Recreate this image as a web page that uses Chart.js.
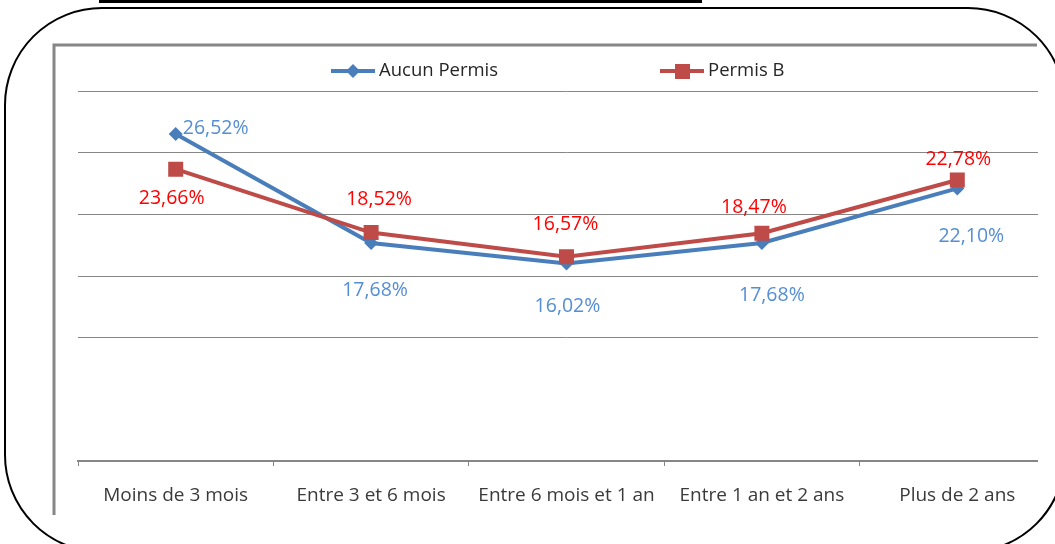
<!DOCTYPE html>
<html>
<head>
<meta charset="utf-8">
<script src="https://cdn.jsdelivr.net/npm/chart.js@4"></script>
<style>
  html, body { margin: 0; padding: 0; background: #fff; overflow: hidden; }
  #wrap { width: 1055px; height: 544px; position: relative; }
</style>
</head>
<body>
<div id="wrap"><canvas id="duree-chart"></canvas></div>
<script>
// chart data
const categories = ['Moins de 3 mois', 'Entre 3 et 6 mois', 'Entre 6 mois et 1 an', 'Entre 1 an et 2 ans', 'Plus de 2 ans'];
const aucunPermis = [26.52, 17.68, 16.02, 17.68, 22.10];
const permisB = [23.66, 18.52, 16.57, 18.47, 22.78];
const seriesNames = ['Aucun Permis', 'Permis B'];
const yTicks = [0, 5, 10, 15, 20, 25, 30];

// label offsets from each point (pixels), like excel places them
const labelOffsetsBlue = [[40, -5], [4, 47], [1, 43], [10, 52], [14, 48]];
const labelOffsetsRed = [[-4, 29], [8, -33], [-1, -32], [-8, -26], [1, -21]];

const blue = '#4a7ebb', red = '#be4b48';
const blueText = '#558ed5', redText = '#ff0000';
const grey = '#868686';
const fontFam = '"Open Sans", "Noto Sans", sans-serif';

function fmt(v) { return v.toFixed(2).replace('.', ',') + '%'; }

const decor = {
  id: 'decor',
  beforeDraw(chart) {
    const c = chart.ctx;
    c.save();
    c.fillStyle = '#fff';
    c.fillRect(0, 0, chart.width, chart.height);
    c.restore();
  },
  beforeDatasetsDraw(chart) {
    // plot lines stop short of the right edge in the original
    const c = chart.ctx;
    c.save();
    c.fillStyle = '#fff';
    c.fillRect(1038, 80, 20, 400);
    c.restore();
  },
  afterDatasetsDraw(chart) {
    const c = chart.ctx;
    c.save();
    c.font = '19.5px ' + fontFam;
    c.textAlign = 'center';
    c.textBaseline = 'middle';
    const sets = [[0, labelOffsetsBlue, blueText], [1, labelOffsetsRed, redText]];
    sets.forEach(([di, offs, col]) => {
      const meta = chart.getDatasetMeta(di);
      const vals = chart.data.datasets[di].data;
      meta.data.forEach((pt, j) => {
        c.fillStyle = col;
        c.fillText(fmt(vals[j]), pt.x + offs[j][0], pt.y + offs[j][1]);
      });
    });
    c.restore();
  },
  afterDraw(chart) {
    const c = chart.ctx;
    c.save();
    // legend
    c.lineWidth = 4;
    c.strokeStyle = blue;
    c.beginPath(); c.moveTo(331, 71); c.lineTo(375, 71); c.stroke();
    c.fillStyle = blue;
    c.beginPath(); c.moveTo(353, 64); c.lineTo(360, 71); c.lineTo(353, 78); c.lineTo(346, 71); c.closePath(); c.fill();
    c.strokeStyle = red;
    c.beginPath(); c.moveTo(660, 71); c.lineTo(704, 71); c.stroke();
    c.fillStyle = red;
    c.fillRect(675, 64, 15, 15);
    c.font = '18.5px ' + fontFam;
    c.fillStyle = '#262626';
    c.textBaseline = 'middle';
    c.textAlign = 'left';
    c.fillText(seriesNames[0], 379, 71);
    c.fillText(seriesNames[1], 708, 71);

    // grey chart frame
    c.strokeStyle = grey;
    c.lineWidth = 3;
    c.beginPath(); c.moveTo(54, 515); c.lineTo(54, 45); c.lineTo(1037, 45); c.stroke();

    // title underline (cut off at top)
    c.fillStyle = '#000';
    c.fillRect(99, 0, 603, 3);

    // rounded outer frame
    const x0 = 5, y0 = 8, x1 = 1065, y1 = 552, r = 97;
    c.strokeStyle = '#000';
    c.lineWidth = 2;
    c.beginPath();
    c.moveTo(x0 + r, y0);
    c.lineTo(x1 - r, y0);
    c.arcTo(x1, y0, x1, y0 + r, r);
    c.lineTo(x1, y1 - r);
    c.arcTo(x1, y1, x1 - r, y1, r);
    c.lineTo(x0 + r, y1);
    c.arcTo(x0, y1, x0, y1 - r, r);
    c.lineTo(x0, y0 + r);
    c.arcTo(x0, y0, x0 + r, y0, r);
    c.closePath();
    c.stroke();
    c.restore();
  }
};

const ctx = document.getElementById('duree-chart').getContext('2d');
const chart = new Chart(ctx, {
  type: 'line',
  data: {
    labels: categories,
    datasets: [
      {
        label: seriesNames[0],
        data: aucunPermis,
        borderColor: blue,
        backgroundColor: blue,
        borderWidth: 4,
        pointStyle: 'rectRot',
        pointRadius: 7,
        pointBorderWidth: 0,
        tension: 0,
        order: 1
      },
      {
        label: seriesNames[1],
        data: permisB,
        borderColor: red,
        backgroundColor: red,
        borderWidth: 4,
        pointStyle: 'rect',
        pointRadius: 10.6,
        pointBorderWidth: 0,
        tension: 0,
        order: 0
      }
    ]
  },
  options: {
    responsive: true,
    maintainAspectRatio: false,
    animation: false,
    layout: { autoPadding: false, padding: { left: 78, right: 0, top: 91, bottom: 0 } },
    plugins: {
      legend: { display: false },
      tooltip: { enabled: false }
    },
    scales: {
      x: {
        offset: true,
        grid: {
          offset: true,
          drawOnChartArea: false,
          drawTicks: true,
          tickLength: 5,
          color: grey,
          lineWidth: 1
        },
        border: { display: true, color: grey, width: 2 },
        ticks: {
          color: '#3a3a3a',
          padding: 18,
          maxRotation: 0,
          autoSkip: false,
          font: { family: fontFam, size: 19 }
        },
        afterFit(scale) {
          scale.height = 83;
          scale.paddingLeft = 0;
          scale.paddingRight = 0;
        }
      },
      y: {
        min: yTicks[0],
        max: yTicks[yTicks.length - 1],
        afterBuildTicks(scale) { scale.ticks = yTicks.map(v => ({ value: v })); },
        ticks: { display: false },
        border: { display: false },
        grid: {
          drawTicks: false,
          lineWidth: 1,
          color: (c) => (c.tick && c.tick.value === 5) ? 'rgba(0,0,0,0)' : grey
        },
        afterFit(scale) { scale.width = 0; }
      }
    }
  },
  plugins: [decor]
});
</script>
</body>
</html>
